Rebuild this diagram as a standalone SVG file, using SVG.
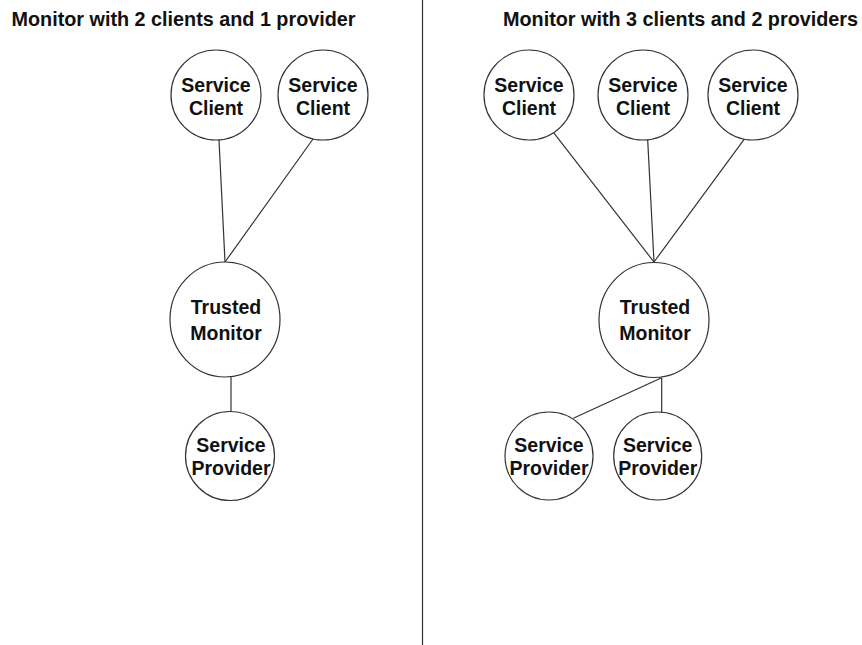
<svg xmlns="http://www.w3.org/2000/svg" width="862" height="645" viewBox="0 0 862 645">
<style>
.bg{fill:#fff}
.node{fill:#fff;stroke:#333;stroke-width:1.2}
.edge{stroke:#333;stroke-width:1.2;fill:none}
.t{font-family:"Liberation Sans",Arial,sans-serif;font-weight:bold;font-size:19.5px;fill:#111;text-anchor:middle}
.title{font-family:"Liberation Sans",Arial,sans-serif;font-weight:bold;font-size:19.8px;fill:#111}
</style>
<rect class="bg" x="0" y="0" width="862" height="645"/>
<line class="edge" x1="422.5" y1="0" x2="422.5" y2="645"/>
<text class="title" x="11.5" y="26">Monitor with 2 clients and 1 provider</text>
<text class="title" x="503" y="26">Monitor with 3 clients and 2 providers</text>
<g id="connectors">
<line class="edge" x1="219" y1="140" x2="225" y2="262"/>
<line class="edge" x1="313" y1="139" x2="225" y2="262"/>
<line class="edge" x1="231" y1="377" x2="231" y2="412"/>
<line class="edge" x1="553.6" y1="132.7" x2="654" y2="262"/>
<line class="edge" x1="647.7" y1="140" x2="654" y2="262"/>
<line class="edge" x1="744.3" y1="139.1" x2="654" y2="262"/>
<line class="edge" x1="661.7" y1="377.7" x2="661.7" y2="412"/>
<line class="edge" x1="661.7" y1="377.7" x2="573.3" y2="418.3"/>
</g>
<g id="left-client-1"><circle class="node" cx="216" cy="95" r="45"/><text class="t" x="216" y="92">Service</text><text class="t" x="216" y="115">Client</text></g>
<g id="left-client-2"><circle class="node" cx="323" cy="95" r="45"/><text class="t" x="323" y="92">Service</text><text class="t" x="323" y="115">Client</text></g>
<g id="left-monitor"><ellipse class="node" cx="225" cy="319.5" rx="55" ry="57.5"/><text class="t" x="226" y="314">Trusted</text><text class="t" x="226" y="340">Monitor</text></g>
<g id="left-provider"><circle class="node" cx="230" cy="456" r="44.5"/><text class="t" x="231" y="452">Service</text><text class="t" x="231" y="475">Provider</text></g>
<g id="right-client-1"><circle class="node" cx="529" cy="95" r="45"/><text class="t" x="529" y="92">Service</text><text class="t" x="529" y="115">Client</text></g>
<g id="right-client-2"><circle class="node" cx="643" cy="95" r="45"/><text class="t" x="643" y="92">Service</text><text class="t" x="643" y="115">Client</text></g>
<g id="right-client-3"><circle class="node" cx="753" cy="95" r="45"/><text class="t" x="753" y="92">Service</text><text class="t" x="753" y="115">Client</text></g>
<g id="right-monitor"><ellipse class="node" cx="654" cy="320" rx="55" ry="57.5"/><text class="t" x="655" y="314">Trusted</text><text class="t" x="655" y="340">Monitor</text></g>
<g id="right-provider-1"><circle class="node" cx="549" cy="456" r="44"/><text class="t" x="549" y="452">Service</text><text class="t" x="549" y="475">Provider</text></g>
<g id="right-provider-2"><circle class="node" cx="657.7" cy="456" r="44"/><text class="t" x="657.7" y="452">Service</text><text class="t" x="657.7" y="475">Provider</text></g>
</svg>
